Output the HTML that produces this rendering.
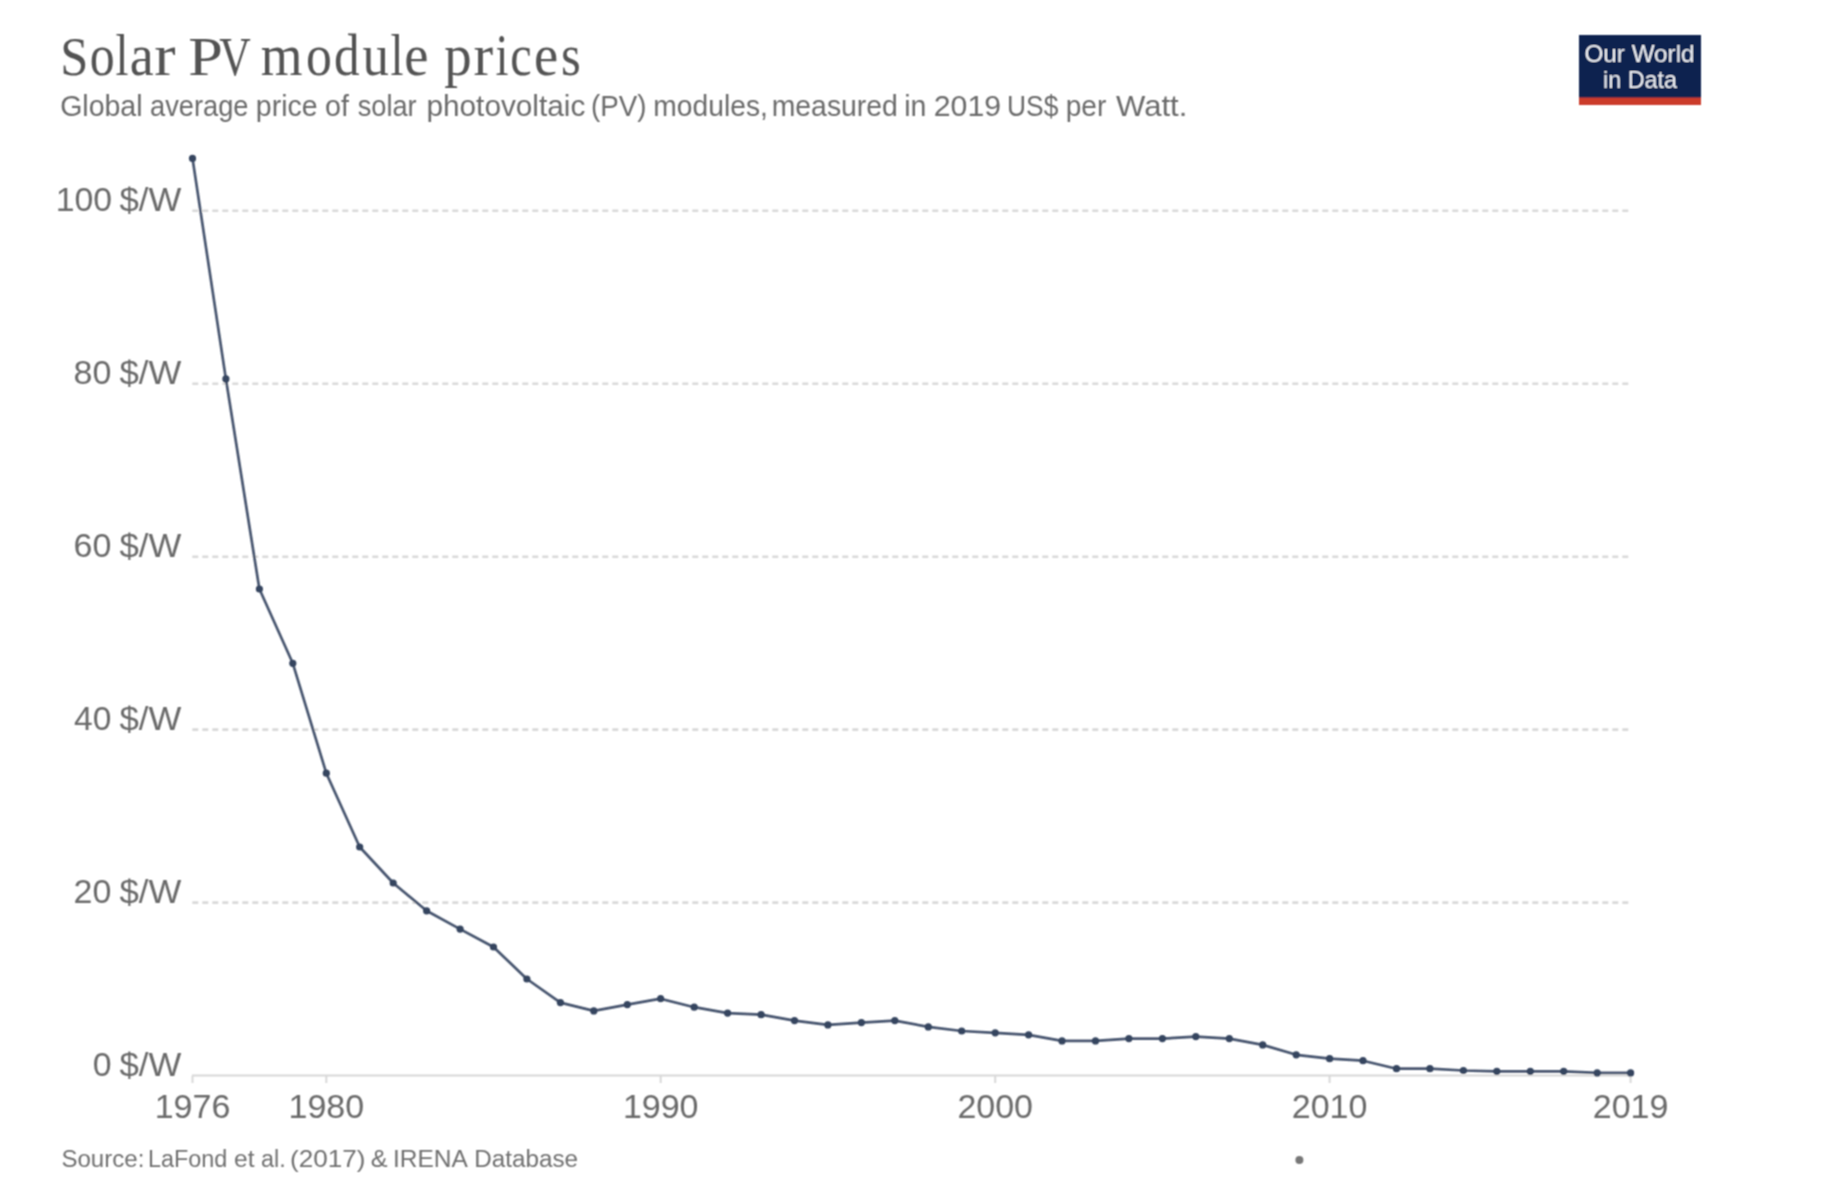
<!DOCTYPE html>
<html><head><meta charset="utf-8"><style>
html,body{margin:0;padding:0;background:#fff;}
body{width:1824px;height:1184px;overflow:hidden;position:relative;}
svg{position:absolute;left:0;top:0;}
.t{font-family:"Liberation Serif",serif;}
.s{font-family:"Liberation Sans",sans-serif;}
</style></head><body>
<svg width="1824" height="1184" viewBox="0 0 1824 1184">
<defs><filter id="bl" x="0" y="0" width="1824" height="1184" filterUnits="userSpaceOnUse"><feConvolveMatrix order="3" kernelMatrix="1 2 1 2 4 2 1 2 1" edgeMode="none"/></filter></defs>
<rect width="1824" height="1184" fill="#fff"/>
<g filter="url(#bl)">
<g class="t" fill="#535353"><text transform="translate(60.2,74.7) scale(0.926,1)" font-size="54.5">S</text><text transform="translate(89.8,74.7) scale(0.852,1)" font-size="58.5">o</text><text transform="translate(115.4,74.7) scale(0.8,1)" font-size="58.5">l</text><text transform="translate(129.66,74.7) scale(0.922,1)" font-size="58.5">a</text><text transform="translate(154.21,74.7) scale(1.094,1)" font-size="58.5">r</text><text transform="translate(188.32,74.7) scale(1.142,1)" font-size="54.5">P</text><text transform="translate(219.35,74.7) scale(0.8,1)" font-size="54.5">V</text><text transform="translate(260.78,74.7) scale(0.918,1)" font-size="58.5">m</text><text transform="translate(305.93,74.7) scale(0.884,1)" font-size="58.5">o</text><text transform="translate(333.94,74.7) scale(0.878,1)" font-size="58.5">d</text><text transform="translate(362.4,74.7) scale(0.904,1)" font-size="58.5">u</text><text transform="translate(390.55,74.7) scale(0.8,1)" font-size="58.5">l</text><text transform="translate(404.34,74.7) scale(0.932,1)" font-size="58.5">e</text><text transform="translate(444.26,74.7) scale(0.938,1)" font-size="58.5">p</text><text transform="translate(473.59,74.7) scale(1.006,1)" font-size="58.5">r</text><text transform="translate(495.5,74.7) scale(0.8,1)" font-size="58.5">i</text><text transform="translate(510.25,74.7) scale(0.823,1)" font-size="58.5">c</text><text transform="translate(533.94,74.7) scale(0.932,1)" font-size="58.5">e</text><text transform="translate(561.06,74.7) scale(0.868,1)" font-size="58.5">s</text></g>
<g class="s" font-size="29" fill="#6a6a6a"><text transform="translate(60.13,115.8) scale(0.984,1)">Global</text><text transform="translate(149.96,115.8) scale(0.941,1)">average</text><text transform="translate(255.83,115.8) scale(0.983,1)">price</text><text transform="translate(325.11,115.8) scale(0.991,1)">of</text><text transform="translate(357.66,115.8) scale(0.939,1)">solar</text><text transform="translate(426.45,115.8) scale(1.027,1)">photovoltaic</text><text transform="translate(590.89,115.8) scale(0.957,1)">(PV)</text><text transform="translate(653.35,115.8) scale(0.974,1)">modules,</text><text transform="translate(771.74,115.8) scale(0.978,1)">measured</text><text transform="translate(904.13,115.8) scale(0.984,1)">in</text><text transform="translate(933.75,115.8) scale(1.045,1)">2019</text><text transform="translate(1007.08,115.8) scale(0.909,1)">US$</text><text transform="translate(1065.66,115.8) scale(0.97,1)">per</text><text transform="translate(1116.0,115.8) scale(1.072,1)">Watt.</text></g>
<rect x="1579" y="35" width="122" height="70" fill="#0b2450"/>
<rect x="1579" y="97.5" width="122" height="7.5" fill="#cb3b2c"/>
<text class="s" x="1639.5" y="62" font-size="24.5" fill="#eceef3" text-anchor="middle" textLength="110" lengthAdjust="spacingAndGlyphs">Our World</text>
<text class="s" x="1640" y="88" font-size="24.5" fill="#eceef3" text-anchor="middle" textLength="74" lengthAdjust="spacingAndGlyphs">in Data</text>
<g stroke="#d9d9d9" stroke-width="2.6" stroke-dasharray="6,4" stroke-dashoffset="-0.3" fill="none">
<line x1="192" x2="1630" y1="902.6" y2="902.6"/>
<line x1="192" x2="1630" y1="729.6" y2="729.6"/>
<line x1="192" x2="1630" y1="556.7" y2="556.7"/>
<line x1="192" x2="1630" y1="383.7" y2="383.7"/>
<line x1="192" x2="1630" y1="210.8" y2="210.8"/>
</g>
<g class="s" font-size="34" fill="#6a6a6a">
<text transform="translate(92.71,1075.8) scale(0.994,1)">0</text><text transform="translate(119.38,1075.8) scale(1.024,1)">$/W</text>
<text transform="translate(73.5,902.9) scale(1.0,1)">20</text><text transform="translate(119.38,902.9) scale(1.024,1)">$/W</text>
<text transform="translate(74.01,729.9) scale(0.986,1)">40</text><text transform="translate(119.38,729.9) scale(1.024,1)">$/W</text>
<text transform="translate(73.5,557.0) scale(1.0,1)">60</text><text transform="translate(119.38,557.0) scale(1.024,1)">$/W</text>
<text transform="translate(73.5,384.0) scale(1.0,1)">80</text><text transform="translate(119.38,384.0) scale(1.024,1)">$/W</text>
<text transform="translate(55.72,211.1) scale(0.994,1)">100</text><text transform="translate(119.38,211.1) scale(1.024,1)">$/W</text>
</g>
<line x1="192" x2="1630.5" y1="1075.5" y2="1075.5" stroke="#d8d8d8" stroke-width="2"/>
<g stroke="#d8d8d8" stroke-width="2">
<line x1="192.5" x2="192.5" y1="1075.5" y2="1083"/>
<line x1="326.3" x2="326.3" y1="1075.5" y2="1083"/>
<line x1="660.7" x2="660.7" y1="1075.5" y2="1083"/>
<line x1="995.2" x2="995.2" y1="1075.5" y2="1083"/>
<line x1="1329.6" x2="1329.6" y1="1075.5" y2="1083"/>
<line x1="1630.6" x2="1630.6" y1="1075.5" y2="1083"/>
</g>
<g class="s" font-size="34" fill="#6a6a6a" text-anchor="middle">
<text x="192.5" y="1118">1976</text>
<text x="326.3" y="1118">1980</text>
<text x="660.7" y="1118">1990</text>
<text x="995.2" y="1118">2000</text>
<text x="1329.6" y="1118">2010</text>
<text x="1630.6" y="1118">2019</text>
</g>
<path d="M192.5,158.4 L225.9,378.9 L259.4,589.0 L292.8,663.3 L326.3,773.2 L359.7,847.0 L393.2,883.0 L426.6,910.8 L460.1,929.1 L493.5,947.0 L526.9,979.0 L560.4,1002.6 L593.8,1010.9 L627.3,1004.6 L660.7,998.7 L694.2,1007.2 L727.6,1013.1 L761.1,1014.7 L794.5,1020.6 L827.9,1024.9 L861.4,1022.6 L894.8,1020.6 L928.3,1026.9 L961.7,1031.0 L995.2,1032.8 L1028.6,1034.8 L1062.0,1040.9 L1095.5,1040.9 L1128.9,1038.6 L1162.4,1038.6 L1195.8,1036.6 L1229.3,1038.6 L1262.7,1044.9 L1296.2,1054.8 L1329.6,1058.7 L1363.0,1060.7 L1396.5,1068.7 L1429.9,1068.7 L1463.4,1070.5 L1496.8,1071.3 L1530.3,1071.3 L1563.7,1071.3 L1597.2,1072.9 L1630.6,1072.9" fill="none" stroke="#34445f" stroke-opacity="0.9" stroke-width="2.7" stroke-linejoin="round"/>
<g fill="#34445f">
<circle cx="192.5" cy="158.4" r="3.6"/>
<circle cx="225.9" cy="378.9" r="3.6"/>
<circle cx="259.4" cy="589.0" r="3.6"/>
<circle cx="292.8" cy="663.3" r="3.6"/>
<circle cx="326.3" cy="773.2" r="3.6"/>
<circle cx="359.7" cy="847.0" r="3.6"/>
<circle cx="393.2" cy="883.0" r="3.6"/>
<circle cx="426.6" cy="910.8" r="3.6"/>
<circle cx="460.1" cy="929.1" r="3.6"/>
<circle cx="493.5" cy="947.0" r="3.6"/>
<circle cx="526.9" cy="979.0" r="3.6"/>
<circle cx="560.4" cy="1002.6" r="3.6"/>
<circle cx="593.8" cy="1010.9" r="3.6"/>
<circle cx="627.3" cy="1004.6" r="3.6"/>
<circle cx="660.7" cy="998.7" r="3.6"/>
<circle cx="694.2" cy="1007.2" r="3.6"/>
<circle cx="727.6" cy="1013.1" r="3.6"/>
<circle cx="761.1" cy="1014.7" r="3.6"/>
<circle cx="794.5" cy="1020.6" r="3.6"/>
<circle cx="827.9" cy="1024.9" r="3.6"/>
<circle cx="861.4" cy="1022.6" r="3.6"/>
<circle cx="894.8" cy="1020.6" r="3.6"/>
<circle cx="928.3" cy="1026.9" r="3.6"/>
<circle cx="961.7" cy="1031.0" r="3.6"/>
<circle cx="995.2" cy="1032.8" r="3.6"/>
<circle cx="1028.6" cy="1034.8" r="3.6"/>
<circle cx="1062.0" cy="1040.9" r="3.6"/>
<circle cx="1095.5" cy="1040.9" r="3.6"/>
<circle cx="1128.9" cy="1038.6" r="3.6"/>
<circle cx="1162.4" cy="1038.6" r="3.6"/>
<circle cx="1195.8" cy="1036.6" r="3.6"/>
<circle cx="1229.3" cy="1038.6" r="3.6"/>
<circle cx="1262.7" cy="1044.9" r="3.6"/>
<circle cx="1296.2" cy="1054.8" r="3.6"/>
<circle cx="1329.6" cy="1058.7" r="3.6"/>
<circle cx="1363.0" cy="1060.7" r="3.6"/>
<circle cx="1396.5" cy="1068.7" r="3.6"/>
<circle cx="1429.9" cy="1068.7" r="3.6"/>
<circle cx="1463.4" cy="1070.5" r="3.6"/>
<circle cx="1496.8" cy="1071.3" r="3.6"/>
<circle cx="1530.3" cy="1071.3" r="3.6"/>
<circle cx="1563.7" cy="1071.3" r="3.6"/>
<circle cx="1597.2" cy="1072.9" r="3.6"/>
<circle cx="1630.6" cy="1072.9" r="3.6"/></g>
<g class="s" font-size="24.5" fill="#707070"><text transform="translate(61.42,1167.3) scale(0.983,1)">Source:</text><text transform="translate(147.99,1167.3) scale(0.956,1)">LaFond</text><text transform="translate(234.1,1167.3) scale(1.0,1)">et</text><text transform="translate(261.04,1167.3) scale(0.957,1)">al.</text><text transform="translate(289.97,1167.3) scale(1.066,1)">(2017)</text><text transform="translate(370.77,1167.3) scale(1.033,1)">&amp;</text><text transform="translate(392.9,1167.3) scale(1.0,1)">IRENA</text><text transform="translate(474.32,1167.3) scale(0.99,1)">Database</text></g>
<circle cx="1299.4" cy="1160" r="4" fill="#777777"/>
</g>
</svg>
</body></html>
